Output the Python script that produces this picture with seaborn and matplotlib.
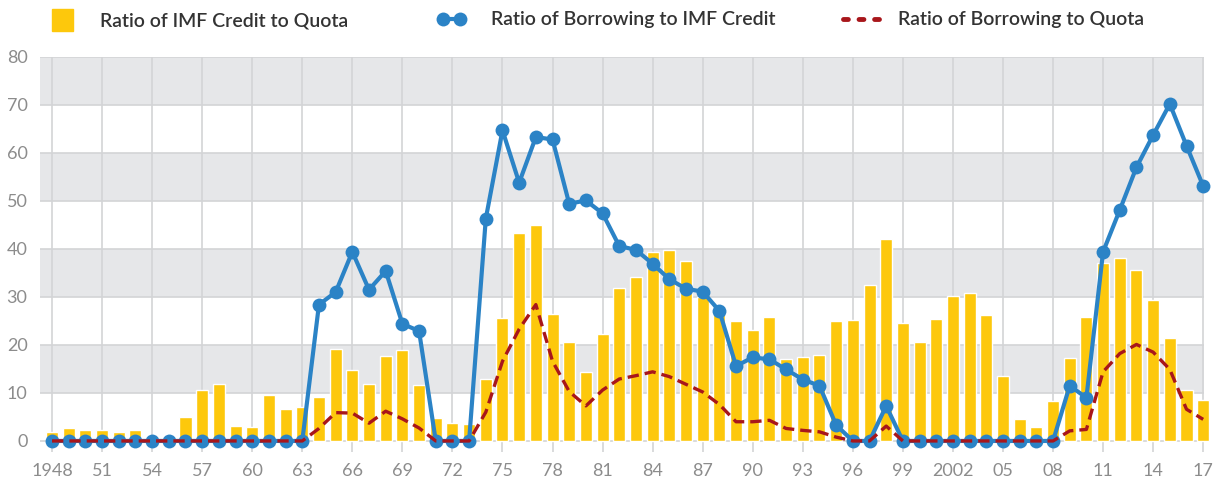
import numpy as np
import pandas as pd
import seaborn as sns
import matplotlib.pyplot as plt
from matplotlib.patches import Patch
from matplotlib.lines import Line2D

years = list(range(1948, 2018))

# Ratio of IMF Credit to Quota (bars)
credit_to_quota = [1.9, 2.6, 2.2, 2.2, 1.9, 2.2, 0, 0, 4.9, 10.6,
                   11.8, 3.1, 2.9, 9.6, 6.6, 7.1, 9.2, 19.1, 14.7, 11.9,
                   17.6, 19.0, 11.6, 4.7, 3.8, 3.6, 13.0, 25.7, 43.3, 44.9,
                   26.5, 20.6, 14.4, 22.2, 31.9, 34.1, 39.4, 39.7, 37.5, 30.0,
                   26.5, 24.9, 23.1, 25.8, 17.0, 17.5, 17.8, 24.9, 25.1, 32.4,
                   42.0, 24.5, 20.6, 25.3, 30.1, 30.8, 26.2, 13.5, 4.6, 2.9,
                   8.3, 17.2, 25.8, 37.0, 38.2, 35.6, 29.3, 21.4, 10.6, 8.5]

# Ratio of Borrowing to IMF Credit (blue line)
borrowing_to_credit = [0, 0, 0, 0, 0, 0, 0, 0, 0, 0,
                       0, 0, 0, 0, 0, 0, 28.4, 31.0, 39.4, 31.5,
                       35.4, 24.4, 22.9, 0, 0, 0, 46.3, 64.7, 53.8, 63.3,
                       62.8, 49.4, 50.1, 47.4, 40.6, 39.8, 36.9, 33.7, 31.7, 31.1,
                       27.1, 15.6, 17.4, 17.0, 14.9, 12.8, 11.5, 3.3, 0, 0,
                       7.3, 0, 0, 0, 0, 0, 0, 0, 0, 0,
                       0, 11.5, 9.0, 39.4, 48.1, 57.0, 63.7, 70.2, 61.5, 53.1]

# Ratio of Borrowing to Quota (red dashed)
borrowing_to_quota = [0, 0, 0, 0, 0, 0, 0, 0, 0, 0,
                      0, 0, 0, 0, 0, 0, 2.6, 5.9, 5.8, 3.7,
                      6.2, 4.6, 2.7, 0, 0, 0, 6.0, 16.6, 23.3, 28.4,
                      16.6, 10.3, 7.3, 10.6, 12.9, 13.6, 14.4, 13.4, 11.8, 10.2,
                      7.6, 4.0, 4.0, 4.3, 2.6, 2.2, 1.9, 0.8, 0, 0,
                      3.1, 0, 0, 0, 0, 0, 0, 0, 0, 0,
                      0, 2.1, 2.4, 14.4, 18.2, 20.1, 18.5, 14.9, 6.6, 4.5]

tick_labels = ['1948', '51', '54', '57', '60', '63', '66', '69', '72', '75',
               '78', '81', '84', '87', '90', '93', '96', '99', '2002', '05',
               '08', '11', '14', '17']

YELLOW = '#FDC80C'
BLUE = '#2B83C6'
RED = '#A8161B'
TICK_GRAY = '#8C8C8C'

df = pd.DataFrame({'year': years,
                   'credit': credit_to_quota,
                   'borrow_credit': borrowing_to_credit,
                   'borrow_quota': borrowing_to_quota})
df['pos'] = np.arange(len(df))

sns.set_style('white')
plt.rcParams['font.family'] = ['Lato', 'DejaVu Sans']

fig = plt.figure(figsize=(12.2, 4.83), dpi=100)
ax = fig.add_axes([0.0328, 0.0642, 0.9541, 0.818])

# alternating bands
for lo in (10, 30, 50, 70):
    ax.axhspan(lo, lo + 10, color='#E6E7E9', zorder=0, lw=0)

sns.barplot(data=df, x='year', y='credit', color=YELLOW, saturation=1,
            width=0.72, ax=ax, zorder=2)
for p in ax.patches:
    p.set_clip_on(False)
sns.lineplot(data=df, x='pos', y='borrow_credit', color=BLUE, lw=3,
             marker='o', markersize=10, markeredgewidth=0, ax=ax, zorder=3,
             clip_on=False)
sns.lineplot(data=df, x='pos', y='borrow_quota', color=RED, lw=2.4,
             dashes=False, ax=ax, zorder=4)
ax.lines[-1].set_dashes((3.4, 1.8))

ax.set_xlim(-0.72, 69.05)
ax.set_ylim(-2.3, 80)
ax.set_yticks(range(0, 81, 10))
ax.set_xticks(range(0, 70, 3))
ax.set_xticklabels(tick_labels)
ax.set_xlabel('')
ax.set_ylabel('')
for y in range(0, 81, 10):
    ax.axhline(y, color='#D3D4D6', lw=1.2, zorder=1)
for x in range(0, 70, 3):
    ax.axvline(x, color='#D3D4D6', lw=1.2, zorder=1)
for s in ax.spines.values():
    s.set_visible(False)
ax.tick_params(axis='both', length=0, labelsize=13, labelcolor=TICK_GRAY)
ax.tick_params(axis='x', pad=8)
ax.tick_params(axis='y', pad=9)

leg_kw = dict(loc='center left', frameon=False, borderpad=0, borderaxespad=0,
              prop={'weight': 'semibold', 'size': 14})
l1 = fig.legend([Patch(color=YELLOW)], ['Ratio of IMF Credit to Quota'],
                bbox_to_anchor=(52 / 1220, 1 - 20 / 483), handlelength=1.1,
                handleheight=1.3, handletextpad=1.35, **leg_kw)
l2 = fig.legend([Line2D([], [], color=BLUE, lw=3, marker='o', markersize=10,
                        markeredgewidth=0)],
                ['Ratio of Borrowing to IMF Credit'],
                bbox_to_anchor=(437 / 1220, 1 - 20 / 483), handlelength=1.5,
                numpoints=2, handletextpad=1.3, **leg_kw)
l3 = fig.legend([Line2D([], [], color=RED, lw=3.5, ls=(0, (1, 2.2)),
                        dash_capstyle='round')],
                ['Ratio of Borrowing to Quota'],
                bbox_to_anchor=(843 / 1220, 1 - 20 / 483), handlelength=1.9,
                handletextpad=0.95, **leg_kw)
for lg in (l1, l2, l3):
    for t in lg.get_texts():
        t.set_color('#333333')

fig.savefig('out.png', dpi=100)
